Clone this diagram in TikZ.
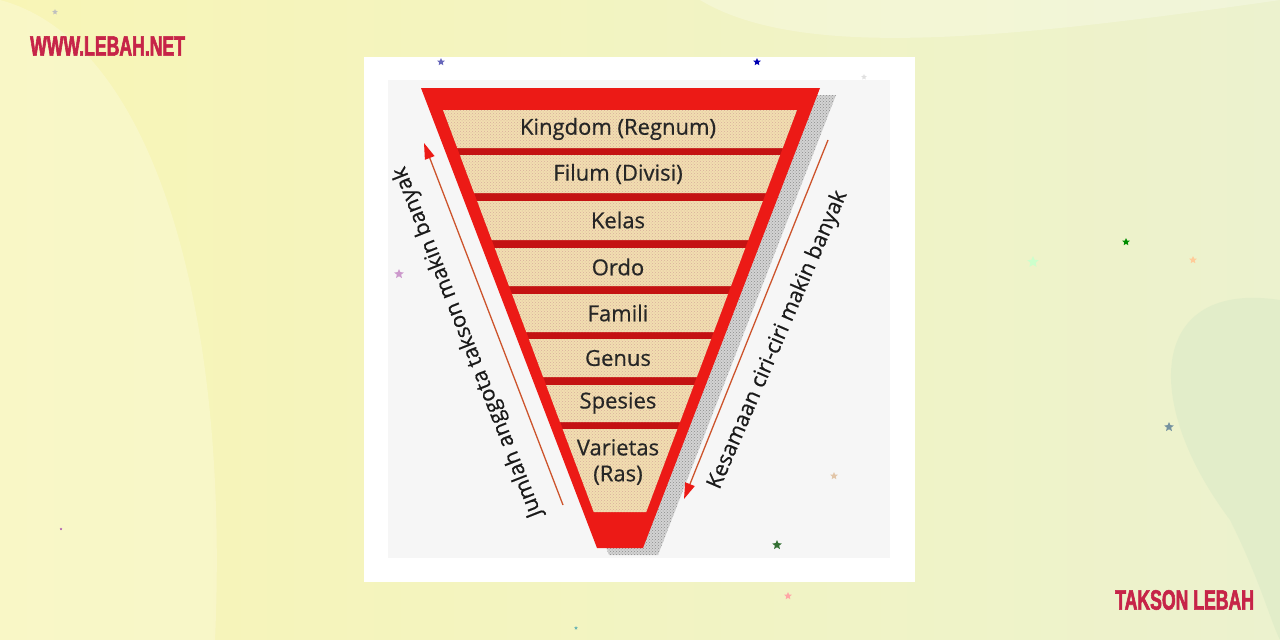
\documentclass[tikz,border=0pt]{standalone}
\usepackage{fontspec}
\setmainfont{Open Sans}
\newfontfamily\labelfont[FakeBold=0.6]{Open Sans}
\newfontfamily\headfont[FakeStretch=0.63,FakeBold=2]{Liberation Sans Bold}
\usetikzlibrary{arrows.meta,shapes.geometric,patterns}

\definecolor{bgyellow}{RGB}{248,245,182}
\definecolor{bggreen}{RGB}{236,242,206}
\definecolor{blobgreen}{RGB}{222,236,200}
\definecolor{framered}{RGB}{236,26,22}
\definecolor{gapred}{RGB}{196,18,18}
\definecolor{bandtan}{RGB}{242,222,176}
\definecolor{speckle}{RGB}{190,120,90}
\definecolor{arrowline}{RGB}{205,84,44}
\definecolor{brandred}{RGB}{198,36,72}
\definecolor{paneloff}{RGB}{246,246,246}

\tikzset{
  bandlabel/.style={font=\labelfont\fontsize{22}{26}\selectfont, text=black!85, inner sep=0pt, align=center},
  sidelabel/.style={font=\labelfont\fontsize{21.5}{24}\selectfont, text=black!90, inner sep=0pt},
  headlabel/.style={font=\headfont\fontsize{28}{30}\selectfont, text=brandred, inner sep=0pt, anchor=west},
  deco/.style={star, star points=5, star point ratio=2.2, minimum size=#1, inner sep=0pt, draw=none},
  deco/.default=8pt,
  trendarrow/.style={arrowline, line width=1.3pt, -{Triangle[length=16pt,width=10pt,color=framered]}}
}

\begin{document}
\begin{tikzpicture}[x=1pt,y=-1pt]
  \useasboundingbox (0,0) rectangle (1280,640);
  % background
  \shade[left color=bgyellow, right color=bggreen] (0,0) rectangle (1280,640);
  \fill[white!50!bgyellow, opacity=0.45] (0,0) .. controls (150,40) and (230,300) .. (215,640) -- (0,640) -- cycle;
  \fill[blobgreen, opacity=0.7] (1280,300) .. controls (1150,280) and (1140,400) .. (1230,520) .. controls (1260,580) and (1270,620) .. (1280,640) -- cycle;
  \fill[white, opacity=0.25] (700,0) .. controls (800,60) and (1000,40) .. (1280,0) -- cycle;

  % panel
  \fill[white] (364,57) rectangle (915,582);
  \fill[paneloff] (388,80) rectangle (890,558);

  % pyramid
  \fill[black!30, opacity=0.5] (433,95) -- (836,95) -- (658,555) -- (609,555) -- cycle;
  \fill[pattern=crosshatch dots, pattern color=black!45] (433,95) -- (836,95) -- (658,555) -- (609,555) -- cycle;
  \fill[framered] (421,88) -- (820,88) -- (643,548) -- (597,548) -- cycle;
  \fill[gapred] (443,110) -- (797,110) -- (646,512) -- (594,512) -- cycle;
  \foreach \top/\bot in {110/148,155/193,201/240,248/286,294/332,339/377,385/422,429/512} {
    \pgfmathsetmacro\wt{177-0.375*(\top-110)}
    \pgfmathsetmacro\wb{177-0.375*(\bot-110)}
    \fill[bandtan] (620-\wt,\top) -- (620+\wt,\top) -- (620+\wb,\bot) -- (620-\wb,\bot) -- cycle;
    \fill[pattern=crosshatch dots, pattern color=speckle!60] (620-\wt,\top) -- (620+\wt,\top) -- (620+\wb,\bot) -- (620-\wb,\bot) -- cycle;
  }

  \node[bandlabel] (kingdom) at (618,129) {Kingdom (Regnum)};
  \node[bandlabel] (filum) at (618,174) {Filum (Divisi)};
  \node[bandlabel] (kelas) at (618,220) {Kelas};
  \node[bandlabel] (ordo) at (618,267) {Ordo};
  \node[bandlabel] (famili) at (618,313) {Famili};
  \node[bandlabel] (genus) at (618,358) {Genus};
  \node[bandlabel] (spesies) at (618,403) {Spesies};
  \node[bandlabel] (varietas) at (618,462) {Varietas\\(Ras)};

  % trend arrows
  \coordinate (upstart) at (563,505);
  \coordinate (upend) at (424,143);
  \coordinate (downstart) at (828,140);
  \coordinate (downend) at (684,499);
  \draw[trendarrow] (upstart) -- (upend);
  \draw[trendarrow] (downstart) -- (downend);
  \node[sidelabel, rotate=111.5] (members) at (468,342) {Jumlah anggota takson makin banyak};
  \node[sidelabel, rotate=66.7] (traits) at (778,340) {Kesamaan ciri-ciri makin banyak};

  % headings
  \node[headlabel] (site) at (30,46) {WWW.LEBAH.NET};
  \node[headlabel] (title) at (1115,600) {TAKSON LEBAH};

  % stars
  \node[deco=6pt, fill=black!25] (s1) at (55,12) {};
  \node[deco, fill=black!45!blue!60] (s2) at (441,62) {};
  \node[deco, fill=blue!70!black] (s3) at (757,62) {};
  \node[deco=6pt, fill=black!12] (s4) at (864,77) {};
  \node[deco=10pt, fill=violet!40] (s5) at (399,274) {};
  \node[deco, fill=green!55!black] (s6) at (1126,242) {};
  \node[deco=12pt, fill=green!20!white] (s7) at (1033,262) {};
  \node[deco, fill=orange!40] (s8) at (1193,260) {};
  \node[deco=10pt, fill=cyan!40!black!70] (s9) at (1169,427) {};
  \node[deco, fill=brown!45] (s10) at (834,476) {};
  \node[deco=10pt, fill=green!30!black!80] (s11) at (777,545) {};
  \node[deco, fill=red!35] (s12) at (788,596) {};
  \node[deco=4pt, fill=teal!60] (s13) at (576,628) {};
  \node[deco=3pt, fill=violet!60] (s14) at (61,529) {};
\end{tikzpicture}
\end{document}
